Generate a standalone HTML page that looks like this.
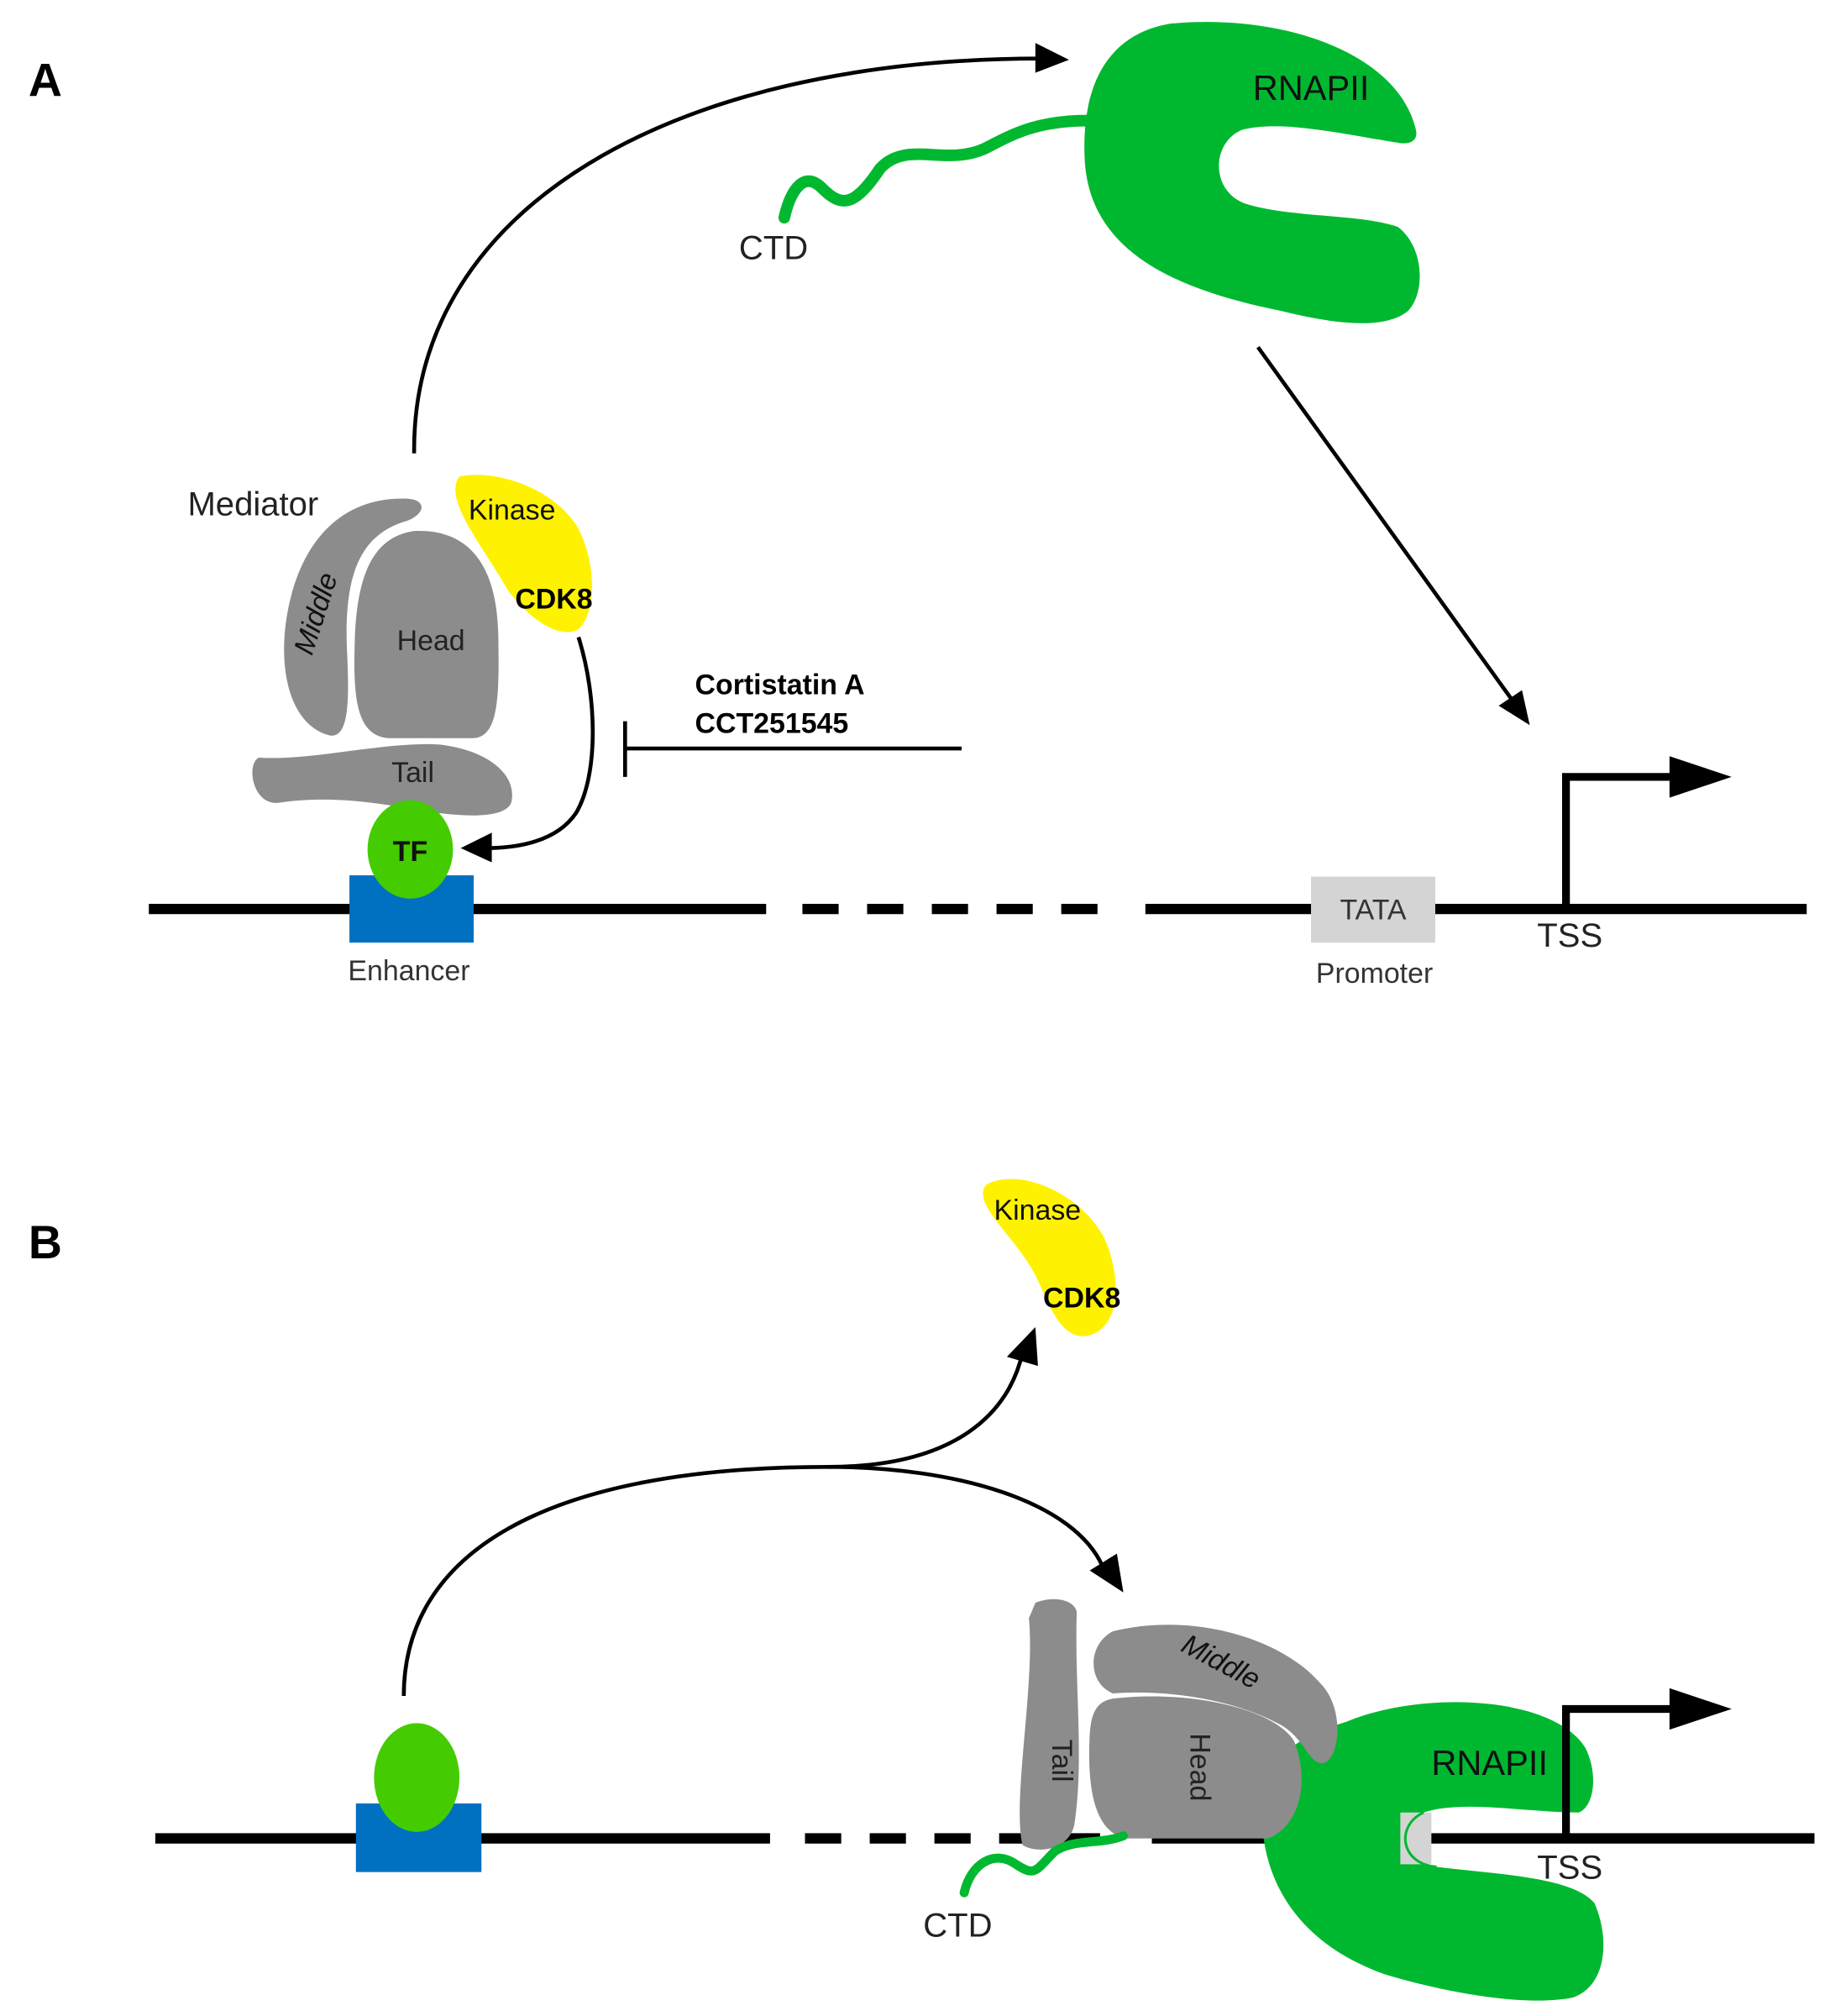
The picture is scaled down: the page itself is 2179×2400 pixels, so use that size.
<!DOCTYPE html>
<html><head><meta charset="utf-8"><style>
html,body{margin:0;padding:0;background:#fff}
svg{display:block}
text{font-family:"Liberation Sans",sans-serif}
</style></head><body>
<svg width="2179" height="2400" viewBox="0 0 1414 1557" xmlns="http://www.w3.org/2000/svg">
<defs>
<marker id="ah" markerWidth="10" markerHeight="10" refX="8" refY="5" orient="auto" markerUnits="userSpaceOnUse" viewBox="0 0 10 10">
<path d="M0,0 L10,5 L0,10 z" fill="#000"/></marker>
</defs>
<rect width="1414" height="1557" fill="#fff"/>
<!-- Panel A -->
<text x="22" y="74" font-size="36" font-weight="bold">A</text>
<!-- big arc -->
<path d="M320,350 C318,160 520,45 805,45" fill="none" stroke="#000" stroke-width="3"/>
<path d="M800,33 L826,46 L800,56 z" fill="#000"/>
<!-- RNAPII A -->
<path d="M905,18 C990,10 1080,40 1094,100 C1096,108 1090,112 1080,110 C1040,104 990,92 960,100 C935,110 935,150 965,158 C1000,168 1050,165 1080,175 C1100,190 1102,225 1088,240 C1070,255 1030,250 990,240 C900,222 840,190 838,120 C836,60 860,25 905,18 z" fill="#00b830"/>
<text x="968" y="77" font-size="27" fill="#111">RNAPII</text>
<path d="M845,93 C800,92 780,105 760,115 C730,128 700,108 680,130 C660,160 650,160 635,145 C620,130 610,150 606,168" fill="none" stroke="#00b830" stroke-width="9" stroke-linecap="round"/>
<text x="571" y="200" font-size="26" fill="#222">CTD</text>
<!-- arrow to TSS -->
<line x1="972" y1="268" x2="1168" y2="540" stroke="#000" stroke-width="3"/>
<path d="M1158,545 L1182,560 L1176,533 z" fill="#000"/>
<!-- Mediator A -->
<text x="145" y="398" font-size="26" fill="#222">Mediator</text>
<path d="M310,385 C270,385 238,410 225,460 C212,510 222,560 255,568 C270,570 270,540 268,500 C266,440 280,412 315,402 C330,396 330,384 310,385 z" fill="#8c8c8c"/>
<path d="M320,410 C285,415 275,450 274,500 C273,540 276,568 300,570 L365,570 C385,570 386,540 385,490 C384,440 365,408 320,410 z" fill="#8c8c8c"/>
<path d="M200,585 C240,588 300,572 340,575 C380,580 400,600 395,620 C390,632 360,632 320,625 C280,618 250,615 215,620 C195,622 190,590 200,585 z" fill="#8c8c8c"/>
<path d="M355,368 C380,362 425,375 445,405 C460,430 462,470 448,485 C435,495 410,480 392,455 C372,420 342,385 355,368 z" fill="#fff200"/>
<text x="251" y="476" font-size="22" font-style="italic" fill="#111" transform="rotate(-72 251 476)" text-anchor="middle">Middle</text>
<text x="333" y="502" font-size="22" fill="#222" text-anchor="middle">Head</text>
<text x="319" y="604" font-size="22" fill="#222" text-anchor="middle">Tail</text>
<text x="362" y="401" font-size="22" fill="#111">Kinase</text>
<text x="398" y="470" font-size="22" font-weight="bold" fill="#000">CDK8</text>
<!-- CDK8 to TF arrow -->
<path d="M447,492 C462,540 462,600 445,628 C430,650 400,655 375,655" fill="none" stroke="#000" stroke-width="3"/>
<path d="M380,643 L356,655 L380,666 z" fill="#000"/>
<!-- inhibitor -->
<line x1="483" y1="578" x2="743" y2="578" stroke="#000" stroke-width="3"/>
<line x1="483" y1="557" x2="483" y2="600" stroke="#000" stroke-width="3"/>
<text x="537" y="536" font-size="22" font-weight="bold">Cortistatin A</text>
<text x="537" y="566" font-size="22" font-weight="bold">CCT251545</text>
<!-- DNA A -->
<line x1="115" y1="702" x2="592" y2="702" stroke="#000" stroke-width="8"/>
<line x1="620" y1="702" x2="858" y2="702" stroke="#000" stroke-width="8" stroke-dasharray="28,22"/>
<line x1="885" y1="702" x2="1396" y2="702" stroke="#000" stroke-width="8"/>
<rect x="270" y="676" width="96" height="52" fill="#0070c0"/>
<ellipse cx="317" cy="656" rx="33" ry="38" fill="#44cc00"/>
<text x="317" y="665" font-size="22" font-weight="bold" text-anchor="middle" fill="#111">TF</text>
<text x="316" y="757" font-size="22" text-anchor="middle" fill="#333">Enhancer</text>
<rect x="1013" y="677" width="96" height="51" fill="#d4d4d4"/>
<text x="1061" y="710" font-size="22" text-anchor="middle" fill="#333">TATA</text>
<text x="1062" y="759" font-size="22" text-anchor="middle" fill="#333">Promoter</text>
<text x="1213" y="731" font-size="26" text-anchor="middle" fill="#222">TSS</text>
<path d="M1210,702 L1210,600 L1295,600" fill="none" stroke="#000" stroke-width="6"/>
<path d="M1290,584 L1338,600 L1290,616 z" fill="#000"/>

<!-- Panel B -->
<text x="22" y="972" font-size="36" font-weight="bold">B</text>
<path d="M762,915 C790,900 840,925 855,960 C870,1000 860,1030 838,1032 C818,1033 810,1005 800,985 C785,955 750,930 762,915 z" fill="#fff200"/>
<text x="768" y="942" font-size="22" fill="#111">Kinase</text>
<text x="806" y="1010" font-size="22" font-weight="bold">CDK8</text>
<path d="M312,1310 C312,1200 420,1133 640,1133 C740,1133 780,1090 790,1045" fill="none" stroke="#000" stroke-width="3"/>
<path d="M778,1048 L800,1025 L802,1055 z" fill="#000"/>
<path d="M640,1133 C740,1133 830,1160 852,1210" fill="none" stroke="#000" stroke-width="3"/>
<path d="M842,1213 L868,1230 L863,1200 z" fill="#000"/>
<!-- DNA B -->
<line x1="120" y1="1420" x2="595" y2="1420" stroke="#000" stroke-width="8"/>
<line x1="622" y1="1420" x2="860" y2="1420" stroke="#000" stroke-width="8" stroke-dasharray="28,22"/>
<line x1="890" y1="1420" x2="1402" y2="1420" stroke="#000" stroke-width="8"/>
<rect x="275" y="1393" width="97" height="53" fill="#0070c0"/>
<ellipse cx="322" cy="1373" rx="33" ry="42" fill="#44cc00"/>
<!-- RNAPII B -->
<path d="M1040,1330 C1100,1305 1200,1310 1225,1350 C1235,1370 1232,1395 1220,1400 C1180,1400 1130,1390 1100,1400 C1078,1410 1082,1440 1110,1442 C1160,1448 1215,1450 1232,1470 C1245,1500 1240,1535 1215,1543 C1180,1550 1120,1540 1070,1525 C1000,1500 975,1450 975,1400 C975,1360 1000,1342 1040,1330 z" fill="#00b830"/>
<rect x="1082" y="1400" width="24" height="40" fill="#d4d4d4"/>
<path d="M1100,1400 C1078,1410 1082,1440 1110,1442" fill="none" stroke="#00b830" stroke-width="2"/>
<text x="1106" y="1371" font-size="27" fill="#111">RNAPII</text>
<!-- Mediator B -->
<path d="M800,1238 C815,1232 830,1236 832,1245 C830,1300 838,1360 830,1410 C825,1430 800,1432 790,1425 C782,1390 800,1300 795,1250 z" fill="#8c8c8c"/>
<path d="M860,1260 C920,1245 990,1265 1020,1300 C1040,1320 1035,1360 1022,1362 C1010,1362 1008,1340 985,1330 C950,1312 900,1305 860,1308 C840,1300 840,1270 860,1260 z" fill="#8c8c8c"/>
<path d="M860,1312 C920,1305 985,1320 1000,1345 C1012,1375 1005,1410 980,1420 L870,1420 C845,1415 840,1380 842,1340 C843,1322 848,1314 860,1312 z" fill="#8c8c8c"/>
<text x="813" y="1360" font-size="22" fill="#222" transform="rotate(90 813 1360)" text-anchor="middle">Tail</text>
<text x="920" y="1365" font-size="22" fill="#222" transform="rotate(90 920 1365)" text-anchor="middle">Head</text>
<text x="940" y="1290" font-size="22" font-style="italic" fill="#111" transform="rotate(28 940 1290)" text-anchor="middle">Middle</text>
<path d="M868,1418 C850,1425 830,1420 815,1430 C800,1445 800,1450 785,1440 C768,1428 750,1440 745,1462" fill="none" stroke="#00b830" stroke-width="7" stroke-linecap="round"/>
<text x="740" y="1496" font-size="26" text-anchor="middle" fill="#222">CTD</text>
<text x="1213" y="1451" font-size="26" text-anchor="middle" fill="#222">TSS</text>
<path d="M1210,1420 L1210,1320 L1295,1320" fill="none" stroke="#000" stroke-width="6"/>
<path d="M1290,1304 L1338,1320 L1290,1336 z" fill="#000"/>
</svg>
</body></html>
